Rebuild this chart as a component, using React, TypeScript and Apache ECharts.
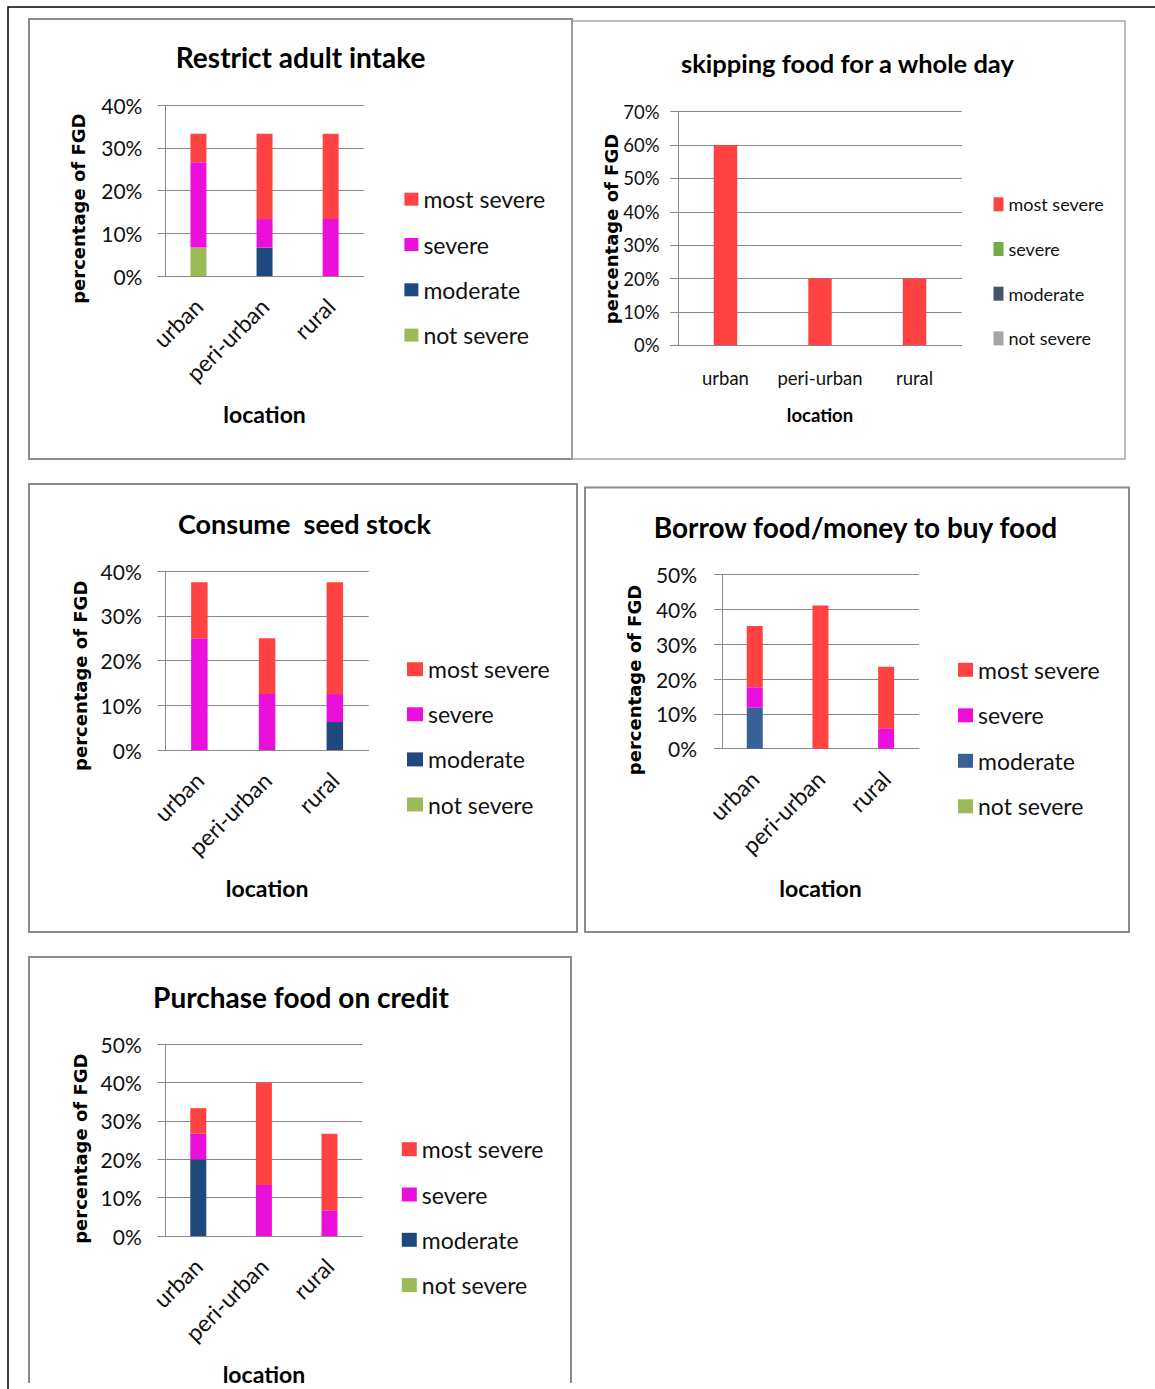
import React, { useEffect, useRef } from "react";
import * as echarts from "echarts";

// Locations on the x axis
const CATEGORIES = ["urban", "peri-urban", "rural"];
// Severity levels, bottom of the stack first
const LEVELS = ["not severe", "moderate", "severe", "most severe"];
// Legend reads top-down from the most severe level
const LEGEND_ORDER = ["most severe", "severe", "moderate", "not severe"];

// Percentage of FGDs reporting each coping strategy, by severity level
const restrictNotSevere = [6.67, 0, 0];
const restrictModerate = [0, 6.67, 0];
const restrictSevere = [20, 6.67, 13.33];
const restrictMostSevere = [6.67, 20, 20];

const skipNotSevere = [0, 0, 0];
const skipModerate = [0, 0, 0];
const skipSevere = [0, 0, 0];
const skipMostSevere = [60, 20, 20];

const seedNotSevere = [0, 0, 0];
const seedModerate = [0, 0, 6.25];
const seedSevere = [25, 12.5, 6.25];
const seedMostSevere = [12.5, 12.5, 25];

const borrowNotSevere = [0, 0, 0];
const borrowModerate = [11.76, 0, 0];
const borrowSevere = [5.88, 0, 5.88];
const borrowMostSevere = [17.65, 41.18, 17.65];

const creditNotSevere = [0, 0, 0];
const creditModerate = [20, 0, 0];
const creditSevere = [6.67, 13.33, 6.67];
const creditMostSevere = [6.67, 26.67, 20];

// Value-axis upper limits (ticks every 10%)
const restrictAxisMax = 40;
const skipAxisMax = 70;
const seedAxisMax = 40;
const borrowAxisMax = 50;
const creditAxisMax = 50;

const RED = "#ff4343";
const MAGENTA = "#ea0fda";
const NAVY = "#1f497d";
const STEEL = "#386296";
const GREEN = "#9bbb59";
const GRID = "#888888";

const REG = "Lato, 'Noto Sans', sans-serif";
const YNAME = "'DejaVu Sans', sans-serif";

type Panel = {
  key: string;
  title: string;
  values: number[][];
  colors: string[];
  max: number;
  font: string;
  titleSize: number;
  tickSize: number;
  catSize: number;
  rotate: number;
  catMargin: number;
  tickMargin: number;
  nameSize: number;
  nameGap: number;
  legendSize: number;
  legend: { left: number; top: number; gap: number; w: number; h: number };
  grid: { left: number; top: number; width: number; height: number };
  barWidth: number;
  titleAt: [number, number];
  yNameAt: [number, number];
  frame: { x: number; y: number; w: number; h: number; color: string; lw: number; open?: boolean };
};

const panels: Panel[] = [
  {
    key: "restrict",
    title: "Restrict adult intake",
    values: [restrictNotSevere, restrictModerate, restrictSevere, restrictMostSevere],
    colors: [GREEN, NAVY, MAGENTA, RED],
    max: restrictAxisMax,
    font: REG,
    titleSize: 28,
    tickSize: 21,
    catSize: 23,
    rotate: 45,
    catMargin: 26,
    tickMargin: 23,
    nameSize: 23,
    nameGap: 126,
    legendSize: 23,
    legend: { left: 404.4, top: 187.7, gap: 22.3, w: 14, h: 13 },
    grid: { left: 165.4, top: 105.3, width: 198.3, height: 170.7 },
    barWidth: 16,
    titleAt: [300.6, 57.3],
    yNameAt: [78.8, 208.7],
    frame: { x: 29, y: 19, w: 543, h: 440, color: "#8c8c8c", lw: 2 },
  },
  {
    key: "skip",
    title: "skipping food for a whole day",
    values: [skipNotSevere, skipModerate, skipSevere, skipMostSevere],
    colors: ["#a5a5a5", "#44546a", "#70ad47", RED],
    max: skipAxisMax,
    font: REG,
    titleSize: 25.5,
    tickSize: 18.5,
    catSize: 18.5,
    rotate: 0,
    catMargin: 23.5,
    tickMargin: 18.6,
    nameSize: 18.5,
    nameGap: 60.5,
    legendSize: 18,
    legend: { left: 993.5, top: 195.3, gap: 26.7, w: 10, h: 14 },
    grid: { left: 678.2, top: 111.7, width: 283.6, height: 233.6 },
    barWidth: 23.5,
    titleAt: [847.4, 63.3],
    yNameAt: [611, 229],
    frame: { x: 572, y: 21, w: 553, h: 438, color: "#a6a6a6", lw: 1.5 },
  },
  {
    key: "seed",
    title: "Consume  seed stock",
    values: [seedNotSevere, seedModerate, seedSevere, seedMostSevere],
    colors: [GREEN, NAVY, MAGENTA, RED],
    max: seedAxisMax,
    font: REG,
    titleSize: 27,
    tickSize: 21,
    catSize: 23,
    rotate: 45,
    catMargin: 26,
    tickMargin: 23.7,
    nameSize: 23,
    nameGap: 126,
    legendSize: 23,
    legend: { left: 407, top: 657.7, gap: 22.1, w: 16, h: 14 },
    grid: { left: 165.5, top: 571, width: 203.2, height: 179 },
    barWidth: 16.5,
    titleAt: [304.4, 523.3],
    yNameAt: [80, 675.8],
    frame: { x: 29, y: 484, w: 548, h: 448, color: "#8c8c8c", lw: 2 },
  },
  {
    key: "borrow",
    title: "Borrow food/money to buy food",
    values: [borrowNotSevere, borrowModerate, borrowSevere, borrowMostSevere],
    colors: [GREEN, STEEL, MAGENTA, RED],
    max: borrowAxisMax,
    font: REG,
    titleSize: 28,
    tickSize: 21,
    catSize: 23,
    rotate: 45,
    catMargin: 26,
    tickMargin: 24.8,
    nameSize: 23,
    nameGap: 127.5,
    legendSize: 23,
    legend: { left: 958, top: 658.3, gap: 22.5, w: 15, h: 14 },
    grid: { left: 721.9, top: 574.7, width: 197.1, height: 174 },
    barWidth: 16,
    titleAt: [855.4, 526.7],
    yNameAt: [634.2, 680],
    frame: { x: 585, y: 487.5, w: 544, h: 444.5, color: "#8c8c8c", lw: 2 },
  },
  {
    key: "credit",
    title: "Purchase food on credit",
    values: [creditNotSevere, creditModerate, creditSevere, creditMostSevere],
    colors: [GREEN, NAVY, MAGENTA, RED],
    max: creditAxisMax,
    font: REG,
    titleSize: 28,
    tickSize: 21,
    catSize: 23,
    rotate: 45,
    catMargin: 26,
    tickMargin: 23.7,
    nameSize: 23,
    nameGap: 126.8,
    legendSize: 23,
    legend: { left: 401.8, top: 1137.7, gap: 22.3, w: 15, h: 14 },
    grid: { left: 165.5, top: 1044.3, width: 196.8, height: 191.7 },
    barWidth: 16,
    titleAt: [301, 996.7],
    yNameAt: [80, 1148.7],
    frame: { x: 29, y: 957, w: 542, h: 426, color: "#8c8c8c", lw: 2, open: true },
  },
];

const TEXT = "#111111";

function buildOption() {
  const grid = panels.map((p) => ({ ...p.grid, containLabel: false }));

  const xAxis = panels.map((p, i) => ({
    type: "category",
    gridIndex: i,
    data: CATEGORIES,
    axisLine: { lineStyle: { color: GRID, width: 1 } },
    axisTick: { show: false },
    axisLabel: {
      rotate: p.rotate,
      margin: p.catMargin,
      fontSize: p.catSize,
      fontFamily: p.font,
      color: TEXT,
      interval: 0,
    },
    name: "location",
    nameLocation: "middle",
    nameGap: p.nameGap,
    nameTextStyle: { fontSize: p.nameSize, fontWeight: "bold", fontFamily: p.font, color: "#000" },
  }));

  const yAxis = panels.map((p, i) => ({
    type: "value",
    gridIndex: i,
    min: 0,
    max: p.max,
    interval: 10,
    axisLine: { show: true, lineStyle: { color: GRID, width: 1 } },
    axisTick: { show: true, length: 8, lineStyle: { color: GRID, width: 1 } },
    splitLine: { lineStyle: { color: GRID, width: 1 } },
    axisLabel: {
      formatter: "{value}%",
      margin: p.tickMargin,
      fontSize: p.tickSize,
      fontFamily: p.font,
      color: TEXT,
    },
  }));

  const legend = panels.map((p) => ({
    orient: "vertical",
    left: p.legend.left,
    top: p.legend.top,
    padding: 0,
    itemGap: p.legend.gap,
    itemWidth: p.legend.w,
    itemHeight: p.legend.h,
    icon: "rect",
    data: LEGEND_ORDER.map((lv) => `${p.key}|${lv}`),
    formatter: (name: string) => name.split("|")[1],
    textStyle: {
      fontSize: p.legendSize,
      lineHeight: p.legendSize,
      fontFamily: p.font,
      color: TEXT,
    },
  }));

  const series: any[] = [];
  panels.forEach((p, i) => {
    LEVELS.forEach((lv, j) => {
      series.push({
        type: "bar",
        name: `${p.key}|${lv}`,
        xAxisIndex: i,
        yAxisIndex: i,
        stack: p.key,
        barWidth: p.barWidth,
        itemStyle: { color: p.colors[j] },
        data: p.values[j],
      });
    });
  });

  const graphic: any[] = [
    // outer page frame
    {
      type: "polyline",
      z: -10,
      shape: { points: [[8, 1389], [8, 7], [1155, 7]] },
      style: { stroke: "#000", lineWidth: 1.5, fill: "none" },
    },
  ];

  panels.forEach((p) => {
    const f = p.frame;
    if (f.open) {
      graphic.push({
        type: "polyline",
        z: -5,
        shape: { points: [[f.x, f.y + f.h], [f.x, f.y], [f.x + f.w, f.y], [f.x + f.w, f.y + f.h]] },
        style: { stroke: f.color, lineWidth: f.lw, fill: "none" },
      });
    } else {
      graphic.push({
        type: "rect",
        z: -5,
        shape: { x: f.x, y: f.y, width: f.w, height: f.h },
        style: { stroke: f.color, lineWidth: f.lw, fill: "none" },
      });
    }
    graphic.push({
      type: "text",
      x: p.titleAt[0],
      y: p.titleAt[1],
      style: {
        text: p.title,
        fontSize: p.titleSize,
        fontWeight: "bold",
        fontFamily: p.font,
        fill: "#000",
        align: "center",
        verticalAlign: "middle",
        textAlign: "center",
        textVerticalAlign: "middle",
      },
    });
    graphic.push({
      type: "text",
      x: p.yNameAt[0],
      y: p.yNameAt[1],
      rotation: Math.PI / 2,
      style: {
        text: "percentage of FGD",
        fontSize: 18,
        fontWeight: "bold",
        fontFamily: YNAME,
        fill: "#000",
        align: "center",
        verticalAlign: "middle",
        textAlign: "center",
        textVerticalAlign: "middle",
      },
    });
  });

  return {
    animation: false,
    backgroundColor: "#ffffff",
    grid,
    xAxis,
    yAxis,
    legend,
    series,
    graphic,
  };
}

export default function App() {
  const ref = useRef<HTMLDivElement>(null);

  useEffect(() => {
    if (!ref.current) return;
    const chart = echarts.init(ref.current, undefined, { renderer: "svg" });
    chart.setOption(buildOption() as any);
    return () => chart.dispose();
  }, []);

  return (
    <div
      ref={ref}
      style={{ position: "absolute", left: 0, top: 0, width: 1155, height: 1389 }}
    />
  );
}
